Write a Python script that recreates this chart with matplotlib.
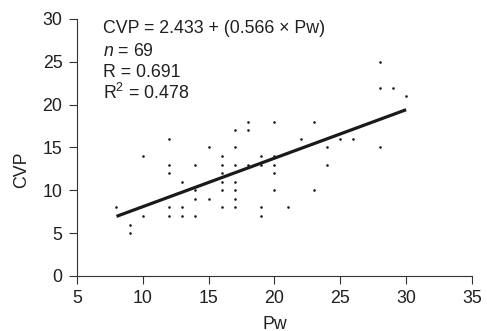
import matplotlib
matplotlib.use("Agg")
import matplotlib.pyplot as plt
import numpy as np

plt.rcParams['font.family'] = ['Liberation Sans', 'DejaVu Sans']
plt.rcParams['mathtext.fontset'] = 'custom'
plt.rcParams['mathtext.rm'] = 'Liberation Sans'
plt.rcParams['mathtext.it'] = 'Liberation Sans:italic'

pw = [8, 9, 9, 10, 10,
      12, 12, 12, 12, 12,
      13, 13, 13,
      14, 14, 14, 14,
      15, 15,
      16, 16, 16, 16, 16, 16,
      17, 17, 17, 17, 17, 17, 17,
      18, 18, 18,
      19, 19, 19, 19,
      20, 20, 20, 20, 20,
      21, 22, 23, 23, 24, 24, 25, 26,
      28, 28, 28, 29, 30]
cvp = [8, 6, 5, 14, 7,
       16, 13, 12, 8, 7,
       11, 8, 7,
       13, 10, 9, 7,
       15, 9,
       14, 13, 12, 11, 10, 8,
       17, 15, 13, 11, 10, 9, 8,
       18, 17, 13,
       14, 13, 8, 7,
       18, 14, 13, 12, 10,
       8, 16, 18, 10, 15, 13, 16, 16,
       25, 22, 15, 22, 21]

intercept = 2.433
slope = 0.566
fit_x = [8, 30]

xticks = [5, 10, 15, 20, 25, 30, 35]
yticks = [0, 5, 10, 15, 20, 25, 30]

txt_color = '#231f20'
fs = 12.8

fig = plt.figure(figsize=(4.87, 3.31), dpi=100)
ax = fig.add_axes([0.1581, 0.1662, 0.8111, 0.7764])

ax.scatter(pw, cvp, s=3.5, color='#1a1a1a', linewidths=0, zorder=3)
fx = np.array(fit_x, dtype=float)
ax.plot(fx, intercept + slope * fx, color='#1a1a1a', lw=2.3, solid_capstyle='butt', zorder=2)

ax.set_xlim(5, 35)
ax.set_ylim(0, 30)
ax.set_xticks(xticks)
ax.set_yticks(yticks)
for s in ['top', 'right']:
    ax.spines[s].set_visible(False)
for s in ['left', 'bottom']:
    ax.spines[s].set_linewidth(0.8)
    ax.spines[s].set_color('#333333')
    ax.spines[s].set_clip_on(False)
ax.tick_params(direction='out', length=6, width=0.8, color='#333333',
               labelsize=fs, labelcolor=txt_color)
ax.tick_params(axis='x', pad=4.0)
ax.tick_params(axis='y', pad=4.5)

ax.set_xlabel('Pw', fontsize=fs, color=txt_color, va='center')
ax.xaxis.set_label_coords(0.5, -0.187)
ax.set_ylabel('CVP', fontsize=fs, color=txt_color, ha='center', va='center')
ax.yaxis.set_label_coords(-0.1405, 0.414)

lines = ['CVP = 2.433 + (0.566 \u00d7 Pw)', '$n$ = 69', 'R = 0.691', 'R$^2$ = 0.478']
ys = [28.36, 25.73, 23.22, 20.65]
for t, yy in zip(lines, ys):
    ax.text(7.0, yy, t, fontsize=fs, color=txt_color, ha='left', va='baseline')

fig.savefig('out.png', dpi=100)
